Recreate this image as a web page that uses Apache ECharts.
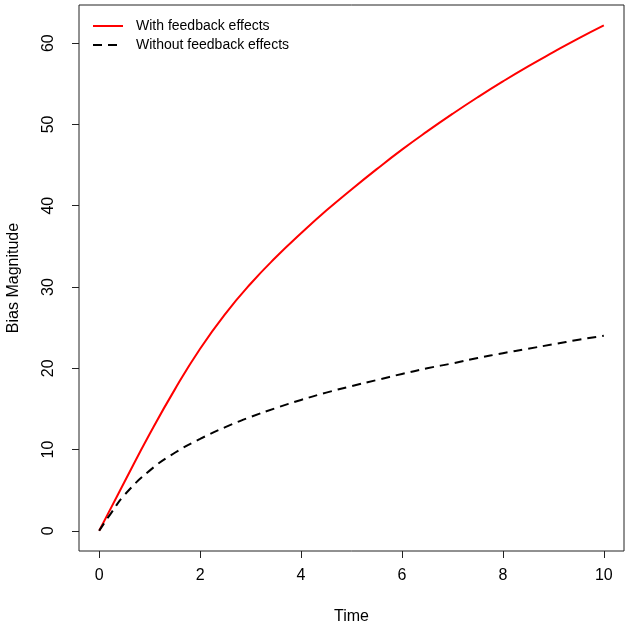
<!DOCTYPE html>
<html>
<head>
<meta charset="utf-8">
<script src="https://cdn.jsdelivr.net/npm/echarts@6/dist/echarts.min.js"></script>
<style>html,body{margin:0;padding:0;background:#fff}#c{width:630px;height:627px}</style>
</head>
<body>
<div id="c"></div>
<script>
const timePoints = [0, 0.25, 0.5, 1, 1.5, 2, 2.5, 3, 3.5, 4, 4.5, 5, 5.5, 6, 6.5, 7, 7.5, 8, 8.5, 9, 9.5, 10];
const withFeedback = [0, 3.0, 6.0, 11.9, 17.4, 22.4, 26.7, 30.4, 33.65, 36.6, 39.4, 42.0, 44.5, 46.9, 49.15, 51.3, 53.35, 55.3, 57.15, 58.9, 60.6, 62.2];
const withoutFeedback = [0, 2.3, 4.4, 7.4, 9.6, 11.3, 12.75, 14.0, 15.1, 16.1, 17.0, 17.8, 18.55, 19.3, 20.0, 20.6, 21.25, 21.85, 22.4, 22.95, 23.5, 24.0];
const xTicks = [0, 2, 4, 6, 8, 10];
const yTicks = [0, 10, 20, 30, 40, 50, 60];
const seriesNames = ['With feedback effects', 'Without feedback effects'];

const font = 'Liberation Sans, Arial, sans-serif';
const chart = echarts.init(document.getElementById('c'), null, {renderer: 'canvas'});
const pair = (ys) => timePoints.map((t, i) => [t, ys[i]]);

chart.setOption({
  animation: false,
  backgroundColor: '#fff',
  grid: {left: 79, right: 6, top: 5, bottom: 76, containLabel: false, outerBoundsMode: 'none',
         show: true, borderColor: '#222', borderWidth: 1, backgroundColor: 'transparent'},
  legend: {
    left: 87, top: 14, orient: 'vertical', itemWidth: 30, itemHeight: 14, itemGap: 5,
    itemStyle: {opacity: 0},
    textStyle: {fontFamily: font, fontSize: 14, color: '#000', padding: [0, 0, 0, 8]},
    data: seriesNames
  },
  xAxis: {
    type: 'value', min: -0.4, max: 10.4,
    name: 'Time', nameLocation: 'middle', nameGap: 58,
    nameTextStyle: {fontFamily: font, fontSize: 16, color: '#000'},
    axisLine: {show: false, onZero: false},
    axisTick: {show: true, inside: false, length: 7, lineStyle: {color: '#222'}, customValues: xTicks},
    axisLabel: {fontFamily: font, fontSize: 16, color: '#000', margin: 17, customValues: xTicks},
    splitLine: {show: false}
  },
  yAxis: {
    type: 'value', min: -2.49, max: 64.7,
    name: 'Bias Magnitude', nameLocation: 'middle', nameGap: 57,
    nameTextStyle: {fontFamily: font, fontSize: 16, color: '#000'},
    axisLine: {show: false, onZero: false},
    axisTick: {show: true, inside: false, length: 7, lineStyle: {color: '#222'}, customValues: yTicks},
    axisLabel: {fontFamily: font, fontSize: 16, color: '#000', margin: 22, rotate: 90, customValues: yTicks},
    splitLine: {show: false}
  },
  series: [
    {name: seriesNames[0], type: 'line', data: pair(withFeedback), smooth: true, symbol: 'none',
     lineStyle: {color: '#ff0000', width: 2}, itemStyle: {color: '#ff0000'}},
    {name: seriesNames[1], type: 'line', data: pair(withoutFeedback), smooth: true, symbol: 'none',
     lineStyle: {color: '#000', width: 2, type: [9, 6]}, itemStyle: {color: '#000'}}
  ]
});
</script>
</body>
</html>
